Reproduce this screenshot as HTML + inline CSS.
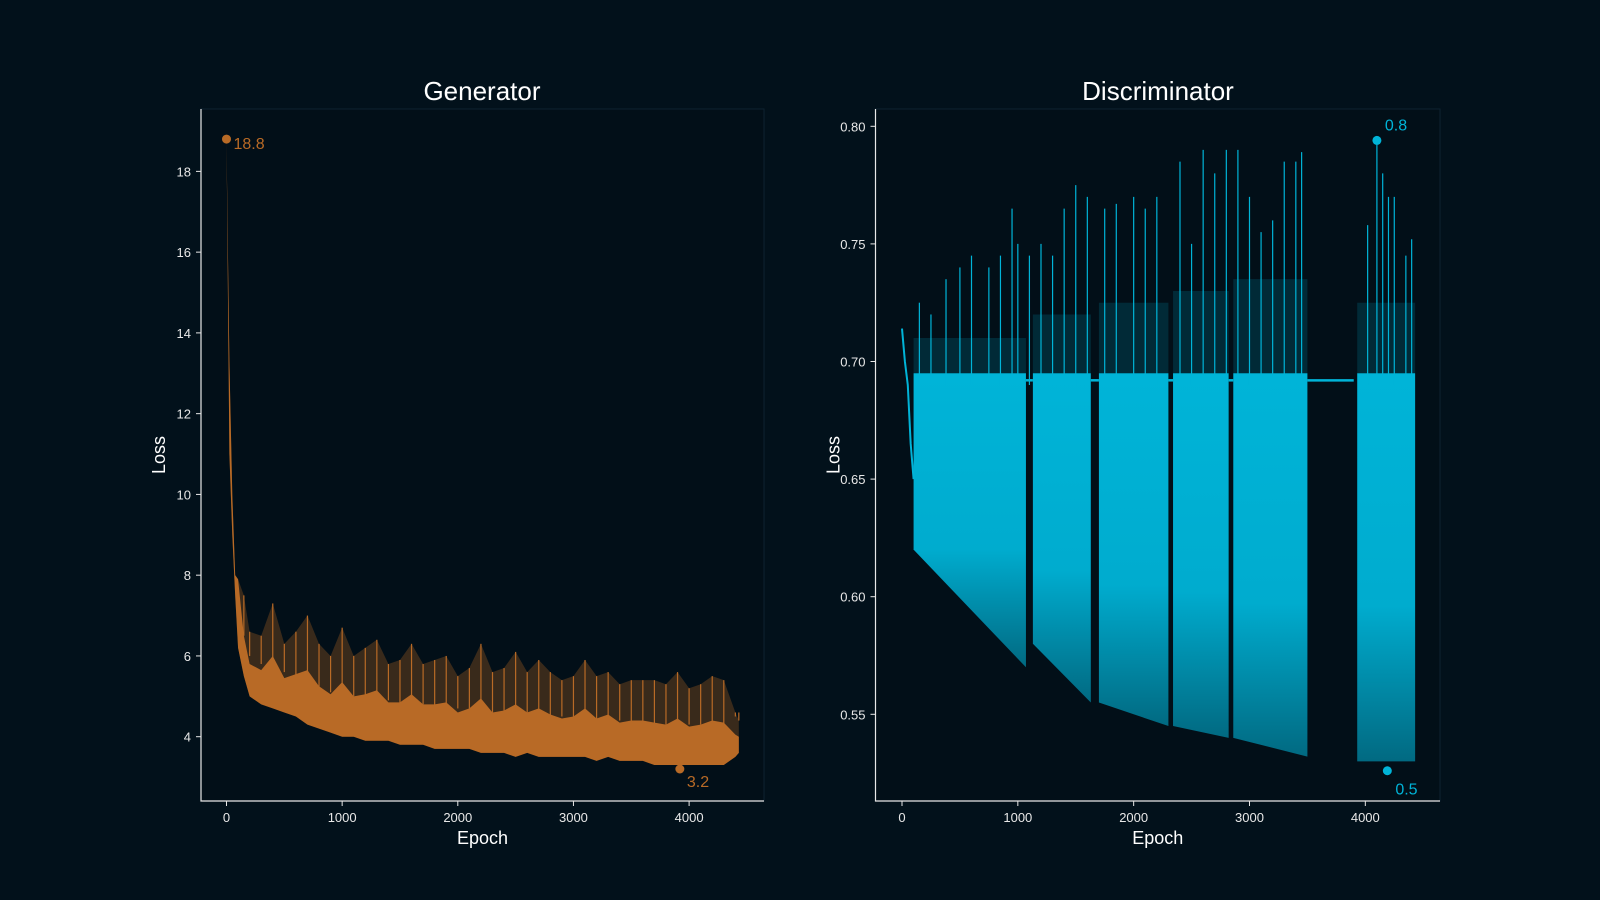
<!DOCTYPE html>
<html><head><meta charset="utf-8"><style>
html,body{margin:0;padding:0;background:#02111b;}
svg{display:block;font-family:"Liberation Sans",sans-serif;}
</style></head><body>
<svg id="c" width="1600" height="900" viewBox="0 0 1600 900">
<defs>
<linearGradient id="cyanGrad" x1="0" y1="0" x2="0" y2="1">
<stop offset="0" stop-color="#00b4d8" stop-opacity="1"/>
<stop offset="0.6" stop-color="#00b4d8" stop-opacity="0.95"/>
<stop offset="1" stop-color="#00b4d8" stop-opacity="0.55"/>
</linearGradient>
</defs>
<rect width="1600" height="900" fill="#02111b"/>
</svg>
<script>
// Generator data (binned envelope)
const genEpochs=[0,10,25,50,75,100,150,200,300,400,500,600,700,800,900,1000,1100,1200,1300,1400,1500,1600,1700,1800,1900,2000,2100,2200,2300,2400,2500,2600,2700,2800,2900,3000,3100,3200,3300,3400,3500,3600,3700,3800,3900,4000,4100,4200,4300,4400,4430];
const genHi=[18.8,16.5,13.3,10,8.0,7.9,7.5,6.6,6.5,7.3,6.3,6.6,7.0,6.3,6.0,6.7,6.0,6.2,6.4,5.8,5.9,6.3,5.8,5.9,6.0,5.5,5.7,6.3,5.6,5.7,6.1,5.6,5.9,5.6,5.4,5.5,5.9,5.5,5.6,5.3,5.4,5.4,5.4,5.3,5.6,5.2,5.3,5.5,5.4,4.6,4.4];
const genLo=[18.8,15.7,11,9,7.5,6.2,5.5,5.0,4.8,4.7,4.6,4.5,4.3,4.2,4.1,4.0,4.0,3.9,3.9,3.9,3.8,3.8,3.8,3.7,3.7,3.7,3.7,3.6,3.6,3.6,3.5,3.6,3.5,3.5,3.5,3.5,3.5,3.4,3.5,3.4,3.4,3.4,3.3,3.3,3.3,3.3,3.3,3.3,3.3,3.5,3.6];
const genMax=[0,18.8], genMin=[3920,3.2];
const genXTicks=[0,1000,2000,3000,4000];
const genYTicks=[4,6,8,10,12,14,16,18];
// Discriminator data
const discBlocks=[[100,1070,0.62,0.57],[1130,1630,0.58,0.555],[1700,2300,0.555,0.545],[2340,2820,0.545,0.54],[2860,3500,0.54,0.532],[3930,4430,0.53,0.53]];
const discBlockUpper=[0.71,0.72,0.725,0.73,0.735,0.725];
const discFlat=[[1070,1130],[1630,1700],[2300,2340],[2820,2860],[3500,3900]];
const discStartE=[0,25,50,75,100];
const discStartV=[0.714,0.70,0.69,0.665,0.65];
const discSpikeE=[150,250,380,500,600,750,850,950,1000,1100,1200,1300,1400,1500,1600,1750,1850,2000,2100,2200,2400,2500,2600,2700,2800,2900,3000,3100,3200,3300,3400,3450,4020,4100,4150,4200,4250,4350,4400];
const discSpikeV=[0.725,0.72,0.735,0.74,0.745,0.74,0.745,0.765,0.75,0.745,0.75,0.745,0.765,0.775,0.77,0.765,0.767,0.77,0.765,0.77,0.785,0.75,0.79,0.78,0.79,0.79,0.77,0.755,0.76,0.785,0.785,0.789,0.758,0.793,0.78,0.77,0.77,0.745,0.752];
const discMax=[4100,0.794], discMin=[4190,0.526];
const discXTicks=[0,1000,2000,3000,4000];
const discYTicks=[0.55,0.60,0.65,0.70,0.75,0.80];

const NS='http://www.w3.org/2000/svg';
const svg=document.getElementById('c');
function mk(tag,attrs,parent){const e=document.createElementNS(NS,tag);for(const k in attrs)e.setAttribute(k,attrs[k]);(parent||svg).appendChild(e);return e;}
function txt(s,attrs,parent){const e=mk('text',attrs,parent);e.textContent=s;return e;}

function axes(g,L,R,T,B,X,Y,xt,yt,fmt,title,tx,name){
  mk('rect',{x:L,y:T,width:R-L,height:B-T,fill:'#020f18',stroke:'#0d2230','stroke-width':1},g);
  const t=txt(title,{x:tx,y:100,'text-anchor':'middle',fill:'#ffffff','font-size':26},g);
  
  const sp=mk('path',{d:`M${L},${T}V${B}H${R}`,stroke:'#e8e8e8','stroke-width':1.2,fill:'none'},g);
  
  xt.forEach(v=>{const x=X(v);mk('line',{x1:x,x2:x,y1:B,y2:B+5,stroke:'#e8e8e8'},g);
    const e=txt(String(v),{x:x,y:B+21,'text-anchor':'middle',fill:'#e8e8e8','font-size':13},g);
    });
  yt.forEach(v=>{const y=Y(v);mk('line',{x1:L-5,x2:L,y1:y,y2:y,stroke:'#e8e8e8'},g);
    const e=txt(fmt(v),{x:L-10,y:y+5,'text-anchor':'end',fill:'#e8e8e8','font-size':13},g);
    });
  const xl=txt('Epoch',{x:(L+R)/2,y:844,'text-anchor':'middle',fill:'#ffffff','font-size':18},g);
  
  const yc=(T+B)/2, xx=L-36;
  const yl=txt('Loss',{x:xx,y:yc,'text-anchor':'middle',fill:'#ffffff','font-size':18,transform:`rotate(-90 ${xx} ${yc})`},g);
  
}

// Generator
(function(){
  const L=201,R=764,T=109,B=801;
  const X=v=>226.5+v*0.11565, Y=v=>736.7-(v-4)*40.38;
  const g=mk('g',{});
  axes(g,L,R,T,B,X,Y,genXTicks,genYTicks,v=>String(v),'Generator',482,'generator');
  const C='#b86a26';
  let up=genEpochs.map((e,i)=>X(e)+','+Y(genHi[i])).join(' ');
  let lo=genEpochs.map((e,i)=>X(e)+','+Y(genLo[i])).reverse().join(' ');
  const p1=mk('polygon',{points:up+' '+lo,fill:C,opacity:0.3},g);
  
  let mid=genEpochs.map((e,i)=>X(e)+','+Y(genLo[i]+(genHi[i]-genLo[i])*(i<6?1:0.5))).join(' ');
  const p2=mk('polygon',{points:mid+' '+lo,fill:C},g);
  
  genEpochs.forEach((e,i)=>{if(i<6)return;const l=mk('line',{x1:X(e),x2:X(e),y1:Y(genLo[i]+1),y2:Y(genHi[i]),stroke:C,'stroke-width':1.2},g);
    });
  const d1=mk('circle',{cx:X(genMax[0]),cy:Y(genMax[1]),r:4.5,fill:C},g);
  
  const t1=txt(genMax[1].toFixed(1),{x:X(genMax[0])+7,y:Y(genMax[1])+10,fill:C,'font-size':16},g);
  
  const d2=mk('circle',{cx:X(genMin[0]),cy:Y(genMin[1]),r:4.5,fill:C},g);
  
  const t2=txt(genMin[1].toFixed(1),{x:X(genMin[0])+7,y:Y(genMin[1])+18,fill:C,'font-size':16},g);
  
})();

// Discriminator
(function(){
  const L=875.5,R=1440,T=109,B=801;
  const X=v=>902+v*0.11583, Y=v=>714.3-(v-0.55)*2352;
  const g=mk('g',{});
  axes(g,L,R,T,B,X,Y,discXTicks,discYTicks,v=>v.toFixed(2),'Discriminator',1158,'discriminator');
  const C='#00b4d8';
  const s=mk('polyline',{points:discStartE.map((e,i)=>X(e)+','+Y(discStartV[i])).join(' '),fill:'none',stroke:C,'stroke-width':2},g);
  
  discFlat.forEach(f=>{const l=mk('line',{x1:X(f[0]),x2:X(f[1]),y1:Y(0.692),y2:Y(0.692),stroke:C,'stroke-width':2.5},g);
    });
  discBlocks.forEach((b,i)=>{
    const up=[[b[0],0.695],[b[1],0.695],[b[1],discBlockUpper[i]],[b[0],discBlockUpper[i]]].map(p=>X(p[0])+','+Y(p[1])).join(' ');
    const u=mk('polygon',{points:up,fill:C,opacity:0.17},g);
    
    const pts=[[b[0],0.695],[b[1],0.695],[b[1],b[3]],[b[0],b[2]]].map(p=>X(p[0])+','+Y(p[1])).join(' ');
    const p=mk('polygon',{points:pts,fill:'url(#cyanGrad)'},g);
    });
  discSpikeE.forEach((e,i)=>{const l=mk('line',{x1:X(e),x2:X(e),y1:Y(0.69),y2:Y(discSpikeV[i]),stroke:C,'stroke-width':1.2},g);
    });
  const d1=mk('circle',{cx:X(discMax[0]),cy:Y(discMax[1]),r:4.5,fill:C},g);
  
  const t1=txt(discMax[1].toFixed(1),{x:X(discMax[0])+8,y:Y(discMax[1])-10,fill:C,'font-size':16},g);
  
  const d2=mk('circle',{cx:X(discMin[0]),cy:Y(discMin[1]),r:4.5,fill:C},g);
  
  const t2=txt(discMin[1].toFixed(1),{x:X(discMin[0])+8,y:Y(discMin[1])+24,fill:C,'font-size':16},g);
  
})();
</script>
</body></html>
